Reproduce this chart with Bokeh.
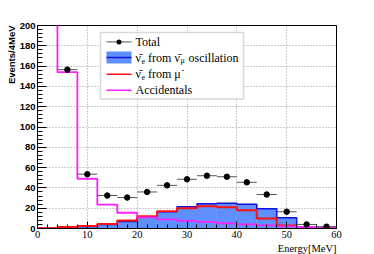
import math
from bokeh.plotting import figure
from bokeh.models import (Range1d, SingleIntervalTicker, Label, BoxAnnotation, Arrow, Title)
from bokeh.embed import file_html
from bokeh.resources import INLINE

# ---- data (4 MeV bins) ----
bin_lo = [0, 4, 8, 12, 16, 20, 24, 28, 32, 36, 40, 44, 48, 52, 56]
bin_width = 4
osc_signal = [0.2, 0.8, 2.0, 4.0, 7.0, 11.0, 16.5, 21.5, 24.5, 25.0, 24.0, 19.5, 10.5, 1.2, 0.5]
mu_minus = [0.3, 1.5, 2.5, 4.5, 8.0, 12.0, 17.0, 20.0, 22.0, 21.0, 18.0, 9.8, 3.0, 1.0, 0.5]
accidentals = [600.0, 154.0, 49.0, 23.5, 15.5, 11.0, 9.0, 7.5, 6.5, 5.0, 4.0, 3.0, 2.0, 1.5, 1.0]
total = [600.5, 156.5, 53.5, 32.5, 30.5, 36.0, 42.5, 48.5, 52.0, 51.0, 45.5, 33.5, 16.5, 4.0, 1.8]

x_ticks_interval = 10
y_ticks_interval = 20

edges = bin_lo + [bin_lo[-1] + bin_width]
centers = [b + bin_width / 2 for b in bin_lo]

def stepped(vals):
    return vals + [vals[-1]]

BLUE_FILL = "#5f8ffc"
BLUE_LINE = "#1010e0"
RED = "#ff1010"
MAGENTA = "#ff20ff"

p = figure(width=374, height=254, output_backend="svg", toolbar_location=None,
           x_range=Range1d(0, 60), y_range=Range1d(0, 200), title=None,
           min_border_left=37, min_border_right=38, min_border_top=25, min_border_bottom=26)
p.background_fill_color = "white"
p.border_fill_color = "white"
p.outline_line_color = "black"
p.outline_line_width = 1

# histograms
p.quad(left=bin_lo, right=[b + bin_width for b in bin_lo], bottom=0, top=osc_signal,
       fill_color=BLUE_FILL, line_color=None)
p.step(x=edges, y=stepped(osc_signal), mode="after", line_color=BLUE_LINE, line_width=1.5)
p.step(x=edges, y=stepped(mu_minus), mode="after", line_color=RED, line_width=2)
p.step(x=edges, y=stepped(accidentals), mode="after", line_color=MAGENTA, line_width=1.8)

# total points with horizontal error bars
p.segment(x0=bin_lo, x1=[b + bin_width for b in bin_lo], y0=total, y1=total,
          line_color="#555555", line_width=1)
p.scatter(x=centers, y=total, size=5.5, fill_color="black", line_color="black")

# axes
p.xaxis.ticker = SingleIntervalTicker(interval=x_ticks_interval, num_minor_ticks=5)
p.yaxis.ticker = SingleIntervalTicker(interval=y_ticks_interval, num_minor_ticks=5)
for ax in (p.xaxis, p.yaxis):
    ax.major_tick_out = 0
    ax.minor_tick_out = 0
    ax.axis_line_color = "black"
    ax.major_tick_line_color = "black"
    ax.minor_tick_line_color = "black"
p.xaxis.major_tick_in = 7
p.xaxis.minor_tick_in = 4
p.yaxis.major_tick_in = 9
p.yaxis.minor_tick_in = 5
p.xaxis.major_label_text_font = "Liberation Serif"
p.xaxis.major_label_text_font_size = "10.5px"
p.xaxis.major_label_text_font_style = "normal"
p.xaxis.major_label_standoff = 2
p.yaxis.major_label_text_font = "Liberation Sans"
p.yaxis.major_label_text_font_size = "9.5px"
p.yaxis.major_label_text_font_style = "bold"
p.yaxis.major_label_standoff = 2
p.xaxis.major_label_text_color = "black"
p.yaxis.major_label_text_color = "black"

p.grid.grid_line_color = "#999999"
p.grid.grid_line_dash = "1 2"
p.grid.grid_line_width = 1

# axis titles (as side titles, aligned to the far ends like ROOT)
p.add_layout(Title(text="Energy[MeV]", align="right", text_font="Liberation Serif",
                   text_font_size="10.5px", text_font_style="normal", text_color="black",
                   standoff=0, offset=0), "below")
p.add_layout(Title(text="Events/4MeV", align="right", text_font="Liberation Sans",
                   text_font_size="9.5px", text_font_style="bold", text_color="black",
                   standoff=0, offset=0), "left")

# legend (manual, frame-relative screen units)
p.add_layout(BoxAnnotation(left=63, right=206, bottom=129.5, top=196,
                           left_units="screen", right_units="screen",
                           bottom_units="screen", top_units="screen",
                           fill_color="white", fill_alpha=1.0,
                           line_color="#808080", line_width=1.5))

ys = [186.6, 171.0, 154.3, 138.3]
gx0, gx1, tx = 69, 94, 98
# Total
p.add_layout(Arrow(end=None, x_start=gx0, y_start=ys[0], x_end=gx1, y_end=ys[0],
                   start_units="screen", end_units="screen", line_color="#555555", line_width=1))
p.add_layout(BoxAnnotation(left=(gx0 + gx1) / 2 - 2.5, right=(gx0 + gx1) / 2 + 2.5,
                           bottom=ys[0] - 2.5, top=ys[0] + 2.5,
                           left_units="screen", right_units="screen",
                           bottom_units="screen", top_units="screen",
                           fill_color="black", fill_alpha=1, line_color=None,
                           border_radius=3))
# oscillation box
p.add_layout(BoxAnnotation(left=gx0, right=gx1, bottom=ys[1] - 6, top=ys[1] + 6,
                           left_units="screen", right_units="screen",
                           bottom_units="screen", top_units="screen",
                           fill_color=BLUE_FILL, fill_alpha=1, line_color=None))
p.add_layout(Arrow(end=None, x_start=gx0, y_start=ys[1], x_end=gx1, y_end=ys[1],
                   start_units="screen", end_units="screen", line_color=BLUE_LINE, line_width=1.5))
p.add_layout(Arrow(end=None, x_start=gx0, y_start=ys[2], x_end=gx1, y_end=ys[2],
                   start_units="screen", end_units="screen", line_color=RED, line_width=1.5))
p.add_layout(Arrow(end=None, x_start=gx0, y_start=ys[3], x_end=gx1, y_end=ys[3],
                   start_units="screen", end_units="screen", line_color=MAGENTA, line_width=1.5))

def txt(x, y, s, size="12px", dy=0):
    p.add_layout(Label(x=x, y=y + dy, x_units="screen", y_units="screen", text=s,
                       text_align="left", text_baseline="middle",
                       text_font="Liberation Serif", text_font_size=size, text_color="black"))

NUBAR = "\u03bd\u0304"
txt(tx, ys[0], "Total")
# nu_e bar from nu_mu bar oscillation
txt(tx, ys[1], NUBAR)
txt(tx + 6, ys[1], "e", "8px", -3)
txt(tx + 12.5, ys[1], "from")
txt(tx + 39, ys[1], NUBAR)
txt(tx + 45, ys[1], "\u03bc", "8px", -3)
txt(tx + 53, ys[1], "oscillation")
# nu_e bar from mu-
txt(tx, ys[2], NUBAR)
txt(tx + 6, ys[2], "e", "8px", -3)
txt(tx + 12.5, ys[2], "from \u03bc")
txt(tx + 46, ys[2], "-", "8px", 4)
txt(tx, ys[3], "Accidentals")

open("out.html", "w").write(file_html(p, INLINE))
